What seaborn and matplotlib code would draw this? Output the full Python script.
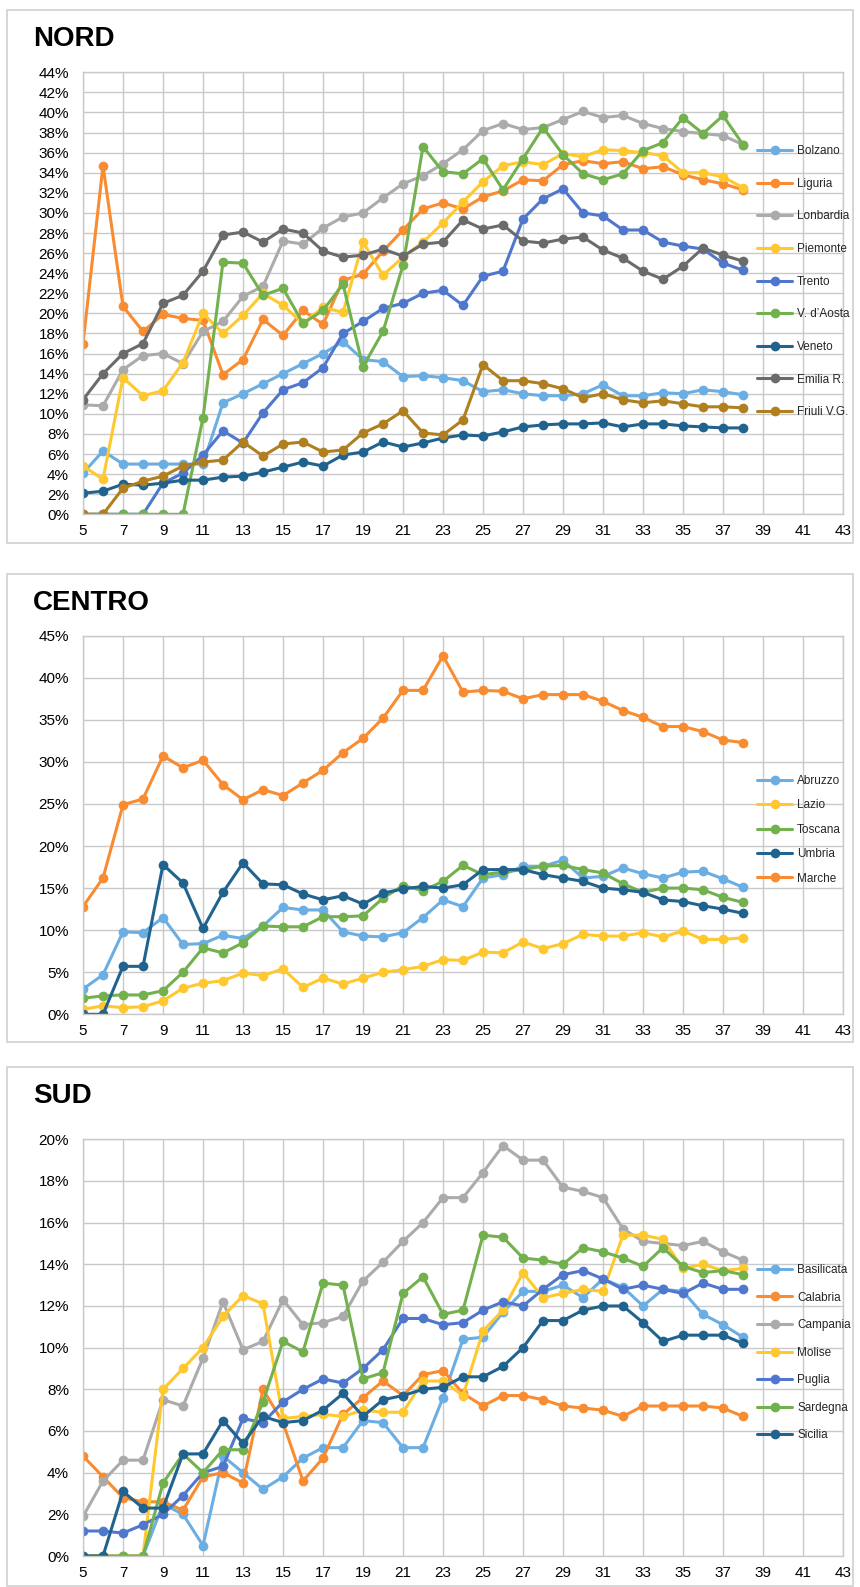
import pandas as pd
import seaborn as sns
import matplotlib
matplotlib.use('Agg')
import matplotlib.pyplot as plt
from matplotlib.patches import Rectangle
from matplotlib.ticker import FuncFormatter, MultipleLocator

weeks = list(range(5, 39))
xticks = list(range(5, 44, 2))

# NORD
nord_regions = ['Bolzano', 'Liguria', 'Lonbardia', 'Piemonte', 'Trento',
                'V. d\u2019Aosta', 'Veneto', 'Emilia R.', 'Friuli V.G.']
bolzano = [4.1, 6.3, 5.0, 5.0, 5.0, 5.0, 5.0, 11.1, 12.0, 13.0, 14.0, 15.0, 16.0, 17.2, 15.4, 15.2, 13.7,
           13.8, 13.6, 13.3, 12.2, 12.4, 12.0, 11.8, 11.8, 12.0, 12.9, 11.8, 11.8, 12.1, 12.0, 12.4, 12.2, 11.9]
liguria = [17.0, 34.7, 20.7, 18.2, 19.9, 19.5, 19.3, 13.9, 15.4, 19.4, 17.8, 20.3, 18.9, 23.3, 23.9, 26.2, 28.3,
           30.4, 31.0, 30.4, 31.6, 32.2, 33.3, 33.2, 34.8, 35.2, 34.9, 35.1, 34.4, 34.6, 33.8, 33.3, 32.9, 32.3]
lombardia = [10.9, 10.8, 14.4, 15.8, 16.0, 15.0, 18.2, 19.2, 21.7, 22.7, 27.2, 26.9, 28.5, 29.6, 30.0, 31.5, 32.9,
             33.7, 34.9, 36.3, 38.2, 38.9, 38.3, 38.5, 39.3, 40.1, 39.5, 39.7, 38.9, 38.4, 38.1, 37.9, 37.7, 36.8]
piemonte = [4.8, 3.5, 13.6, 11.8, 12.3, 15.1, 20.0, 18.0, 19.8, 22.0, 20.8, 19.0, 20.6, 20.1, 27.1, 23.8, 25.6,
            27.1, 29.0, 31.1, 33.1, 34.7, 35.1, 34.8, 35.9, 35.6, 36.3, 36.2, 36.0, 35.7, 34.0, 34.0, 33.6, 32.5]
trento = [0, 0, 0, 0, 3.1, 4.1, 5.9, 8.3, 7.1, 10.1, 12.4, 13.1, 14.6, 18.0, 19.2, 20.5, 21.0,
          22.0, 22.3, 20.8, 23.7, 24.2, 29.4, 31.4, 32.4, 30.0, 29.7, 28.3, 28.3, 27.1, 26.7, 26.4, 25.0, 24.3]
aosta = [0, 0, 0, 0, 0, 0, 9.6, 25.1, 25.0, 21.8, 22.5, 19.0, 20.3, 22.9, 14.7, 18.2, 24.8,
         36.6, 34.1, 33.9, 35.4, 32.3, 35.4, 38.5, 35.8, 33.9, 33.3, 33.9, 36.2, 37.0, 39.5, 37.9, 39.7, 36.8]
veneto = [2.1, 2.3, 3.0, 2.9, 3.1, 3.4, 3.4, 3.7, 3.8, 4.2, 4.7, 5.2, 4.8, 5.9, 6.2, 7.2, 6.7,
          7.1, 7.6, 7.9, 7.8, 8.2, 8.7, 8.9, 9.0, 9.0, 9.1, 8.7, 9.0, 9.0, 8.8, 8.7, 8.6, 8.6]
emilia = [11.4, 14.0, 16.0, 17.0, 21.0, 21.8, 24.2, 27.8, 28.1, 27.1, 28.4, 28.0, 26.2, 25.6, 25.8, 26.4, 25.7,
          26.9, 27.1, 29.3, 28.4, 28.8, 27.2, 27.0, 27.4, 27.6, 26.3, 25.5, 24.2, 23.4, 24.7, 26.5, 25.8, 25.2]
friuli = [0, 0, 2.6, 3.3, 3.8, 4.8, 5.2, 5.4, 7.2, 5.8, 7.0, 7.2, 6.2, 6.4, 8.1, 9.0, 10.3,
          8.1, 7.9, 9.4, 14.9, 13.3, 13.3, 13.0, 12.5, 11.6, 12.0, 11.4, 11.1, 11.3, 11.0, 10.7, 10.7, 10.6]

# CENTRO
centro_regions = ['Abruzzo', 'Lazio', 'Toscana', 'Umbria', 'Marche']
abruzzo = [3.0, 4.7, 9.8, 9.7, 11.5, 8.3, 8.4, 9.4, 9.0, 10.5, 12.7, 12.4, 12.4, 9.8, 9.3, 9.2, 9.7,
           11.5, 13.6, 12.8, 16.2, 16.6, 17.6, 17.6, 18.3, 16.2, 16.4, 17.4, 16.7, 16.2, 16.9, 17.0, 16.1, 15.1]
lazio = [0.6, 1.0, 0.8, 0.9, 1.6, 3.1, 3.7, 4.0, 4.9, 4.6, 5.4, 3.2, 4.3, 3.6, 4.3, 5.0, 5.3,
         5.7, 6.5, 6.4, 7.4, 7.3, 8.6, 7.8, 8.4, 9.5, 9.3, 9.3, 9.7, 9.2, 9.9, 8.9, 8.9, 9.1]
toscana = [1.9, 2.2, 2.3, 2.3, 2.8, 5.0, 7.9, 7.3, 8.5, 10.5, 10.4, 10.4, 11.6, 11.6, 11.7, 13.8, 15.3,
           14.7, 15.8, 17.7, 16.6, 16.9, 17.2, 17.6, 17.7, 17.2, 16.8, 15.5, 14.5, 15.0, 15.0, 14.8, 13.9, 13.3]
umbria = [0, 0, 5.7, 5.7, 17.8, 15.6, 10.2, 14.5, 18.0, 15.5, 15.4, 14.3, 13.6, 14.1, 13.1, 14.4, 14.9,
          15.2, 15.0, 15.4, 17.2, 17.2, 17.2, 16.6, 16.2, 15.8, 15.0, 14.8, 14.5, 13.6, 13.4, 12.9, 12.5, 12.0]
marche = [12.8, 16.2, 24.9, 25.6, 30.7, 29.3, 30.2, 27.3, 25.5, 26.7, 26.0, 27.5, 29.0, 31.1, 32.8, 35.2, 38.5,
          38.5, 42.6, 38.3, 38.5, 38.4, 37.5, 38.0, 38.0, 38.0, 37.2, 36.1, 35.3, 34.2, 34.2, 33.6, 32.6, 32.3]

# SUD
sud_regions = ['Basilicata', 'Calabria', 'Campania', 'Molise', 'Puglia', 'Sardegna', 'Sicilia']
basilicata = [0, 0, 0, 0, 2.5, 2.0, 0.5, 4.8, 4.0, 3.2, 3.8, 4.7, 5.2, 5.2, 6.5, 6.4, 5.2,
              5.2, 7.6, 10.4, 10.5, 11.7, 12.7, 12.7, 13.0, 12.4, 13.3, 12.9, 12.0, 12.8, 12.7, 11.6, 11.1, 10.5]
calabria = [4.8, 3.8, 2.8, 2.6, 2.6, 2.2, 3.8, 4.0, 3.5, 8.0, 6.4, 3.6, 4.7, 6.8, 7.6, 8.4, 7.7,
            8.7, 8.9, 7.8, 7.2, 7.7, 7.7, 7.5, 7.2, 7.1, 7.0, 6.7, 7.2, 7.2, 7.2, 7.2, 7.1, 6.7]
campania = [1.9, 3.6, 4.6, 4.6, 7.5, 7.2, 9.5, 12.2, 9.9, 10.3, 12.3, 11.1, 11.2, 11.5, 13.2, 14.1, 15.1,
            16.0, 17.2, 17.2, 18.4, 19.7, 19.0, 19.0, 17.7, 17.5, 17.2, 15.7, 15.1, 15.0, 14.9, 15.1, 14.6, 14.2]
molise = [0, 0, 0, 0, 8.0, 9.0, 10.0, 11.5, 12.5, 12.1, 6.6, 6.7, 6.8, 6.7, 7.0, 6.9, 6.9,
          8.4, 8.4, 7.7, 10.8, 11.8, 13.6, 12.4, 12.6, 12.8, 12.7, 15.4, 15.4, 15.2, 13.8, 14.0, 13.7, 13.8]
puglia = [1.2, 1.2, 1.1, 1.5, 2.0, 2.9, 4.0, 4.3, 6.6, 6.4, 7.4, 8.0, 8.5, 8.3, 9.0, 9.9, 11.4,
          11.4, 11.1, 11.2, 11.8, 12.2, 12.0, 12.8, 13.5, 13.7, 13.3, 12.8, 13.0, 12.8, 12.6, 13.1, 12.8, 12.8]
sardegna = [0, 0, 0, 0, 3.5, 4.9, 4.0, 5.1, 5.1, 7.4, 10.3, 9.8, 13.1, 13.0, 8.5, 8.8, 12.6,
            13.4, 11.6, 11.8, 15.4, 15.3, 14.3, 14.2, 14.0, 14.8, 14.6, 14.3, 13.9, 14.8, 13.9, 13.6, 13.7, 13.5]
sicilia = [0, 0, 3.1, 2.3, 2.3, 4.9, 4.9, 6.5, 5.4, 6.7, 6.4, 6.5, 7.0, 7.8, 6.7, 7.5, 7.7,
           8.0, 8.1, 8.6, 8.6, 9.1, 10.0, 11.3, 11.3, 11.8, 12.0, 12.0, 11.2, 10.3, 10.6, 10.6, 10.6, 10.2]

LBLUE, ORANGE, LGRAY, YELLOW = '#6AAEE4', '#F98B30', '#ABABAB', '#FFC82E'
BLUE, GREEN, DBLUE, DGRAY, BROWN = '#4F77CC', '#73B04E', '#21638F', '#6B6B6B', '#B07F1F'

sns.set_theme(style='white')
plt.rcParams['font.family'] = ['Liberation Sans Narrow', 'Liberation Sans', 'DejaVu Sans']

W, H = 860, 1587
fig = plt.figure(figsize=(W / 100, H / 100), dpi=100)


def px_axes(left, top, right, bottom):
    return fig.add_axes([left / W, 1 - bottom / H, (right - left) / W, (bottom - top) / H])


def panel(title, frame, box, series, colors, ymax, ystep, leg_top, leg_step):
    fl, ft, fr, fb = frame
    fig.patches.append(Rectangle((fl / W, 1 - fb / H), (fr - fl) / W, (fb - ft) / H,
                                 transform=fig.transFigure, fill=False,
                                 edgecolor='#CFCFCF', linewidth=1.2))
    fig.text(33 / W, 1 - (ft + 29) / H, title, fontsize=20, fontweight='bold',
             va='center', ha='left', color='black')
    ax = px_axes(*box)
    for name, vals in series:
        sns.lineplot(x=weeks, y=[v / 100 for v in vals], ax=ax, color=colors[name], label=name,
                     marker='o', markersize=7, markeredgewidth=0, linewidth=2.2)
    ax.set_xlim(5, 43)
    ax.set_ylim(0, ymax)
    ax.set_xticks(xticks)
    ax.yaxis.set_major_locator(MultipleLocator(ystep))
    ax.yaxis.set_major_formatter(FuncFormatter(lambda v, p: f'{v * 100:.0f}%'))
    ax.grid(True, color='#C9C9C9', linewidth=1.0)
    ax.set_axisbelow(True)
    for s in ax.spines.values():
        s.set_color('#C9C9C9')
        s.set_linewidth(1.0)
    ax.tick_params(axis='both', labelsize=11, length=0, colors='black')
    ax.tick_params(axis='x', pad=7)
    ax.tick_params(axis='y', pad=10)
    ax.set_xlabel('')
    ax.set_ylabel('')
    ax.legend(loc='upper left', bbox_to_anchor=((757) / W, 1 - leg_top / H),
              bbox_transform=fig.transFigure, frameon=False, fontsize=8.5,
              handlelength=3.0, handletextpad=0.4, borderaxespad=0, borderpad=0,
              labelspacing=leg_step, numpoints=1)
    return ax


nord_colors = dict(zip(nord_regions, [LBLUE, ORANGE, LGRAY, YELLOW, BLUE, GREEN, DBLUE, DGRAY, BROWN]))
panel('NORD', (7, 10, 853, 543), (83, 72.3, 843, 514.3),
      list(zip(nord_regions, [bolzano, liguria, lombardia, piemonte, trento, aosta, veneto, emilia, friuli])),
      nord_colors, 0.44, 0.02, 145, 1.75)

centro_colors = dict(zip(centro_regions, [LBLUE, YELLOW, GREEN, DBLUE, ORANGE]))
panel('CENTRO', (7, 574, 853, 1042), (83, 635.7, 843, 1014.3),
      list(zip(centro_regions, [abruzzo, lazio, toscana, umbria, marche])),
      centro_colors, 0.45, 0.05, 775, 1.05)

sud_colors = dict(zip(sud_regions, [LBLUE, ORANGE, LGRAY, YELLOW, BLUE, GREEN, DBLUE]))
panel('SUD', (7, 1067, 853, 1586), (83, 1139.3, 843, 1556),
      list(zip(sud_regions, [basilicata, calabria, campania, molise, puglia, sardegna, sicilia])),
      sud_colors, 0.20, 0.02, 1264, 1.32)

fig.savefig('out.png', dpi=100, facecolor='white')
